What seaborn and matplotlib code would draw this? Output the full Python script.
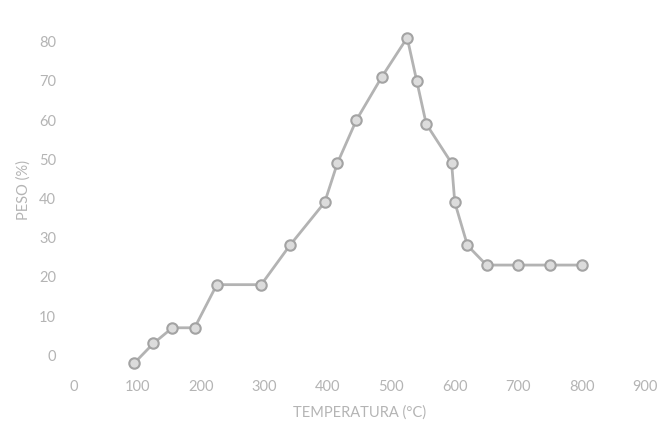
import pandas as pd
import matplotlib.pyplot as plt
import seaborn as sns

sns.set_style("white")
plt.rcParams['font.family'] = ['Liberation Sans Narrow', 'Lato', 'DejaVu Sans']

# values
temperatura = [95, 125, 155, 190, 225, 295, 340, 395, 415, 445, 485, 525,
               540, 555, 595, 600, 620, 650, 700, 750, 800]
peso = [-2, 3, 7, 7, 18, 18, 28, 39, 49, 60, 71, 81,
        70, 59, 49, 39, 28, 23, 23, 23, 23]
x_ticks = [0, 100, 200, 300, 400, 500, 600, 700, 800, 900]
y_ticks = [0, 10, 20, 30, 40, 50, 60, 70, 80]

df = pd.DataFrame({'Temperatura': temperatura, 'Peso': peso})

text_color = '#b4b4b4'

fig = plt.figure(figsize=(6.58, 4.28), dpi=100)
ax = fig.add_axes([0.1125, 0.138, 0.868, 0.838])

sns.lineplot(data=df, x='Temperatura', y='Peso', ax=ax, color='#b3b3b3',
             linewidth=2, marker='o', markersize=7.5,
             markerfacecolor='#dcdcdc', markeredgecolor='#a3a3a3',
             markeredgewidth=1.5)

ax.set_xlim(0, 900)
ax.set_ylim(-3.5, 88)
ax.set_xticks(x_ticks)
ax.set_yticks(y_ticks)
ax.tick_params(axis='both', length=0, labelsize=10.5, labelcolor=text_color)
ax.tick_params(axis='x', pad=8)
ax.tick_params(axis='y', pad=13)
for s in ax.spines.values():
    s.set_visible(False)

ax.set_xlabel('TEMPERATURA (°C)', color=text_color, fontsize=10.5, labelpad=8)
ax.set_ylabel('PESO (%)', color=text_color, fontsize=10.5, labelpad=6)

plt.savefig('out.png', dpi=100)
